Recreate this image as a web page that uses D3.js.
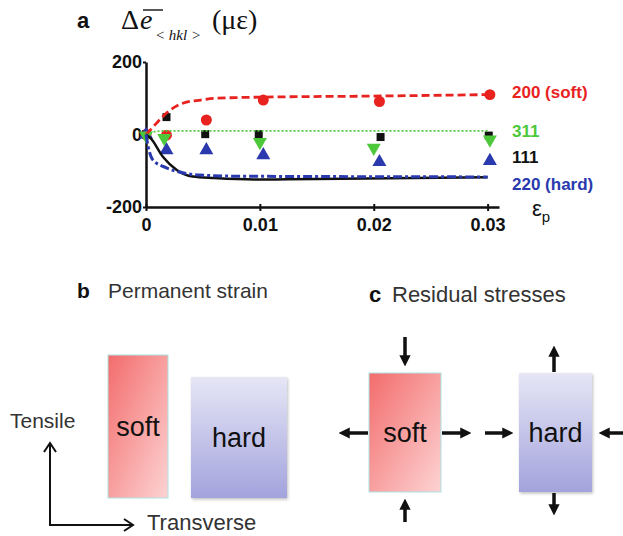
<!DOCTYPE html>
<html>
<head>
<meta charset="utf-8">
<script src="https://cdn.jsdelivr.net/npm/d3@7"></script>
<style>
  html, body { margin: 0; padding: 0; background: #fff; }
  svg { display: block; font-family: Arial, "Liberation Sans", sans-serif; }
</style>
</head>
<body>
<svg id="fig" width="623" height="536"></svg>
<script>
// ---- panel a: lattice strain vs plastic strain ----
const xTicks = [0, 0.01, 0.02, 0.03];
const yTicks = [-200, 0, 200];
const xTickLabels = ["0", "0.01", "0.02", "0.03"];
const yTickLabels = ["-200", "0", "200"];

// measured points per reflection [plastic strain, lattice strain (µε)]
const pts200 = [[0, 0], [0.0018, -2], [0.0053, 40], [0.0103, 95], [0.0205, 91], [0.0302, 110]];
const pts111 = [[0, 0], [0.0018, 48], [0.0052, 1], [0.0099, 1], [0.0206, -7], [0.0301, -3]];
const pts311 = [[0, -3], [0.0016, -10], [0.0100, -21], [0.0200, -37], [0.0302, -14]];
const pts220 = [[0, 0], [0.0018, -43], [0.0053, -43], [0.0103, -57], [0.0205, -76], [0.0302, -73]];

// model curves
const fit200 = [[0, 0], [0.0006, 20], [0.001, 34], [0.0019, 62], [0.0033, 87], [0.0048, 95], [0.0062, 100], [0.01, 103], [0.02, 106], [0.03, 110]];
const fit311 = [[0, 0], [0.0008, 8], [0.002, 10], [0.01, 10], [0.02, 10], [0.03, 10]];
const fit111 = [[0, 0], [0.0004, -10], [0.0015, -62], [0.0027, -98], [0.0041, -116], [0.006, -120], [0.0095, -124], [0.015, -123], [0.03, -118]];
const fit220 = [[0, 0], [0.0002, -35], [0.0006, -70], [0.0018, -92], [0.0033, -106], [0.0047, -112], [0.008, -115], [0.03, -117]];

const seriesNames = ["200 (soft)", "311", "111", "220 (hard)"];
const seriesColors = ["#e8231f", "#4cc83a", "#111111", "#2a3aae"];

const svg = d3.select("#fig");
svg.append("rect").attr("width", 623).attr("height", 536).attr("fill", "#fff");

const x = d3.scaleLinear().domain([0, 0.031]).range([146, 499]);
const y = d3.scaleLinear().domain([-200, 200]).range([207, 62]);

const gA = svg.append("g");

// axes
const xAxis = d3.axisBottom(x).tickValues(xTicks)
  .tickFormat((d, i) => xTickLabels[i]).tickSize(4).tickSizeOuter(0);
const gx = gA.append("g").attr("transform", `translate(0,${y(-200)})`).call(xAxis);
gx.select(".domain").attr("stroke", "#111").attr("stroke-width", 2.5);
gx.selectAll(".tick line").attr("stroke", "#111").attr("stroke-width", 2).attr("y1", -3);
gx.selectAll(".tick text").attr("font-size", 18).attr("font-weight", "bold").attr("fill", "#111").attr("dy", "0.95em");

const yAxis = d3.axisLeft(y).tickValues(yTicks)
  .tickFormat((d, i) => yTickLabels[i]).tickSize(3).tickSizeOuter(0);
const gy = gA.append("g").attr("transform", `translate(${x(0)},0)`).call(yAxis);
gy.select(".domain").attr("stroke", "#111").attr("stroke-width", 2.5);
gy.selectAll(".tick line").attr("stroke", "#111").attr("stroke-width", 2);
gy.selectAll(".tick text").attr("font-size", 18).attr("font-weight", "bold").attr("fill", "#111").attr("x", -4);

// curves
const line = d3.line().x(d => x(d[0])).y(d => y(d[1])).curve(d3.curveMonotoneX);
const curves = [
  { data: fit200, color: seriesColors[0], width: 2.8, dash: "8,4" },
  { data: fit311, color: seriesColors[1], width: 1.8, dash: "2,2" },
  { data: fit111, color: seriesColors[2], width: 2.5, dash: null },
  { data: fit220, color: seriesColors[3], width: 3, dash: "9,3,3,3" }
];

// markers
const sym = (type, size) => d3.symbol().type(type).size(size)();
const markerSets = [
  { data: pts200, color: seriesColors[0], path: sym(d3.symbolCircle, 95), rot: 0 },
  { data: pts111, color: seriesColors[2], path: sym(d3.symbolSquare, 64), rot: 0 },
  { data: pts220, color: seriesColors[3], path: sym(d3.symbolTriangle, 85), rot: 0 },
  { data: pts311, color: seriesColors[1], path: sym(d3.symbolTriangle, 85), rot: 180 }
];
markerSets.forEach(m => {
  gA.append("g").selectAll("path").data(m.data).join("path")
    .attr("d", m.path)
    .attr("transform", d => `translate(${x(d[0])},${y(d[1])}) rotate(${m.rot})`)
    .attr("fill", m.color);
});

curves.forEach(c => {
  gA.append("path").datum(c.data)
    .attr("d", line)
    .attr("fill", "none")
    .attr("stroke", c.color)
    .attr("stroke-width", c.width)
    .attr("stroke-dasharray", c.dash);
});

// series labels at the right edge
const labelY = [92, 131, 157, 184];
seriesNames.forEach((n, i) => {
  gA.append("text").attr("x", 512).attr("y", labelY[i]).attr("dy", "0.35em")
    .attr("font-size", 17).attr("font-weight", "bold").attr("fill", seriesColors[i]).text(n);
});

// axis name for plastic strain
const ep = gA.append("text").attr("x", 532).attr("y", 216).attr("font-size", 22).attr("fill", "#111");
ep.append("tspan").text("ε");
ep.append("tspan").attr("font-size", 15).attr("dy", 6).text("p");

// panel title: Δē<hkl> (με)
const serif = "'Liberation Serif', 'DejaVu Serif', serif";
gA.append("text").attr("x", 77).attr("y", 28).attr("font-size", 22).attr("font-weight", "bold").attr("fill", "#111").text("a");
gA.append("text").attr("x", 121).attr("y", 29).attr("font-family", serif).attr("font-size", 28).attr("fill", "#111").text("Δ");
gA.append("text").attr("x", 140).attr("y", 29).attr("font-family", serif).attr("font-size", 28)
  .attr("font-style", "italic").attr("fill", "#111").text("e");
gA.append("line").attr("x1", 143).attr("x2", 163).attr("y1", 10).attr("y2", 10)
  .attr("stroke", "#111").attr("stroke-width", 1.4);
gA.append("text").attr("x", 155).attr("y", 40).attr("font-family", serif).attr("font-size", 15)
  .attr("font-style", "italic").attr("fill", "#111").text("< hkl >");
gA.append("text").attr("x", 212).attr("y", 29).attr("font-family", serif).attr("font-size", 28).attr("fill", "#111").text("(με)");

// ---- panels b and c: schematic blocks ----
const defs = svg.append("defs");
const softGrad = defs.append("linearGradient").attr("id", "softGrad")
  .attr("x1", "0%").attr("y1", "0%").attr("x2", "100%").attr("y2", "100%");
softGrad.append("stop").attr("offset", "0%").attr("stop-color", "#f36c6c");
softGrad.append("stop").attr("offset", "100%").attr("stop-color", "#fdd3d3");
const hardGrad = defs.append("linearGradient").attr("id", "hardGrad")
  .attr("x1", "0%").attr("y1", "0%").attr("x2", "0%").attr("y2", "100%");
hardGrad.append("stop").attr("offset", "0%").attr("stop-color", "#e6e6f6");
hardGrad.append("stop").attr("offset", "100%").attr("stop-color", "#a3a3dd");
const shadow = defs.append("filter").attr("id", "shade").attr("x", "-10%").attr("y", "-10%").attr("width", "130%").attr("height", "130%");
shadow.append("feDropShadow").attr("dx", 1).attr("dy", 1.5).attr("stdDeviation", 1.5).attr("flood-color", "#000").attr("flood-opacity", 0.25);

const arrowHead = defs.append("marker").attr("id", "headFill").attr("viewBox", "0 0 10 10")
  .attr("refX", 6).attr("refY", 5).attr("markerWidth", 3.2).attr("markerHeight", 3.2).attr("orient", "auto");
arrowHead.append("path").attr("d", "M0,0 L10,5 L0,10 z").attr("fill", "#111");

function block(g, bx, by, w, h, kind, label, ty) {
  g.append("rect").attr("x", bx).attr("y", by).attr("width", w).attr("height", h)
    .attr("fill", kind === "soft" ? "url(#softGrad)" : "url(#hardGrad)")
    .attr("stroke", kind === "soft" ? "#aee3e3" : "none").attr("stroke-width", 1)
    .attr("filter", kind === "soft" ? null : "url(#shade)");
  g.append("text").attr("x", bx + w / 2).attr("y", ty).attr("text-anchor", "middle")
    .attr("font-size", 27).attr("fill", "#111").text(label);
}
function arrow(g, x1, y1, x2, y2) {
  g.append("line").attr("x1", x1).attr("y1", y1).attr("x2", x2).attr("y2", y2)
    .attr("stroke", "#111").attr("stroke-width", 3.5).attr("marker-end", "url(#headFill)");
}

const gB = svg.append("g");
gB.append("text").attr("x", 77).attr("y", 298).attr("font-size", 21).attr("font-weight", "bold").attr("fill", "#111").text("b");
gB.append("text").attr("x", 108).attr("y", 298).attr("font-size", 21).attr("fill", "#333").text("Permanent strain");
block(gB, 108, 355, 60, 143, "soft", "soft", 436);
block(gB, 191, 377, 96, 121, "hard", "hard", 447);
gB.append("text").attr("x", 10).attr("y", 428).attr("font-size", 21).attr("fill", "#333").text("Tensile");
gB.append("text").attr("x", 147).attr("y", 530).attr("font-size", 22).attr("fill", "#333").text("Transverse");
gB.append("path").attr("d", "M50,443 L50,525 L133,525").attr("fill", "none")
  .attr("stroke", "#111").attr("stroke-width", 2);
gB.append("path").attr("d", "M44,452 L50,443 L56,452").attr("fill", "none").attr("stroke", "#111").attr("stroke-width", 2);
gB.append("path").attr("d", "M124,519 L133,525 L124,531").attr("fill", "none").attr("stroke", "#111").attr("stroke-width", 2);

const gC = svg.append("g");
gC.append("text").attr("x", 369).attr("y", 302).attr("font-size", 22).attr("font-weight", "bold").attr("fill", "#111").text("c");
gC.append("text").attr("x", 392).attr("y", 302).attr("font-size", 22).attr("fill", "#333").text("Residual stresses");
block(gC, 369, 373, 72, 119, "soft", "soft", 442);
block(gC, 519, 373, 73, 119, "hard", "hard", 442);
// soft: pulled sideways, pushed vertically
arrow(gC, 405, 337, 405, 362);
arrow(gC, 405, 522, 405, 503);
arrow(gC, 368, 433, 343, 433);
arrow(gC, 442, 433, 467, 433);
// hard: pushed sideways, pulled vertically
arrow(gC, 485, 433, 509, 433);
arrow(gC, 623, 433, 603, 433);
arrow(gC, 554, 372, 554, 350);
arrow(gC, 554, 493, 554, 511);
</script>
</body>
</html>
